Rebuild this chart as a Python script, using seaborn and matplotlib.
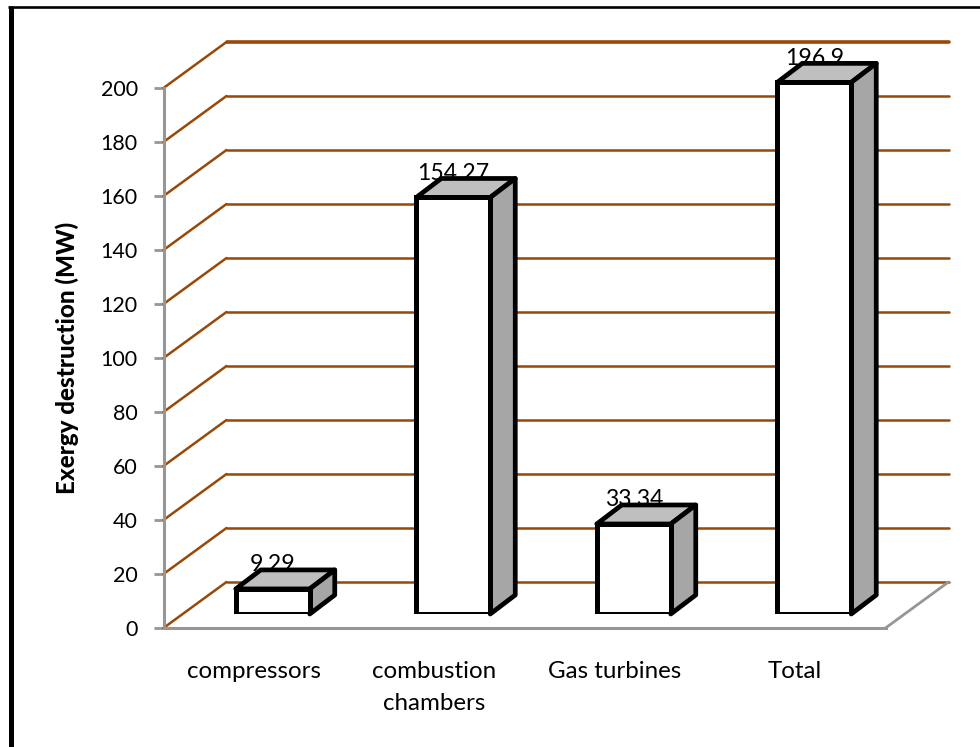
import matplotlib
matplotlib.use("Agg")
import matplotlib.pyplot as plt
from matplotlib.patches import Polygon
from matplotlib.lines import Line2D
import pandas as pd
import seaborn as sns

categories = ["compressors", "combustion\nchambers", "Gas turbines", "Total"]
values = [9.29, 154.27, 33.34, 196.9]
value_labels = ["9.29", "154.27", "33.34", "196.9"]
y_ticks = list(range(0, 201, 20))

W, H = 980, 747
sns.set_theme(style="white")
plt.rcParams["font.family"] = ["Lato", "DejaVu Sans"]

fig = plt.figure(figsize=(W / 100, H / 100), dpi=100, facecolor="white")


def rect(x0, x1, ytop, ybot):
    return [x0 / W, 1 - ybot / H, (x1 - x0) / W, (ybot - ytop) / H]


ax = fig.add_axes(rect(163.5, 885.5, 88, 628))
ax.set_xlim(-0.5, 3.5)
ax.set_ylim(0, 200)
bx = fig.add_axes(rect(182.5, 904.5, 74, 614), zorder=3)
bx.patch.set_alpha(0)

GRID = "#984807"
GRAY = "#969696"
ppx = 4 / 722  # category units per pixel
ppy = 200 / 540  # value units per pixel
dx_back, dy_back = 63 * ppx, 46 * ppy

# walls: oblique left wall and back wall gridlines
for v in y_ticks:
    ax.plot([-0.5, -0.5 + dx_back], [v, v + dy_back],
            color=GRID, lw=1.8, clip_on=False, solid_capstyle="round", zorder=1)
    ax.plot([-0.5 + dx_back, 3.5 + dx_back], [v + dy_back, v + dy_back],
            color=GRID, lw=2.6 if v == 200 else 1.8, clip_on=False,
            solid_capstyle="round", zorder=1)
ax.plot([3.5, 3.5 + dx_back], [0, dy_back], color=GRAY, lw=2.0, clip_on=False, zorder=2)

ax.set_yticks(y_ticks)
ax.set_xticks(range(4))
ax.set_xticklabels(categories, fontsize=17.4, color="black", linespacing=1.6)
ax.tick_params(axis="y", length=7, width=2, color=GRAY, labelsize=15.5, labelcolor="black",
               pad=11.5, left=True)
ax.tick_params(axis="x", length=0, pad=24)
for s in ("top", "right"):
    ax.spines[s].set_visible(False)
for s in ("left", "bottom"):
    ax.spines[s].set_color(GRAY)
    ax.spines[s].set_linewidth(2.2)
ax.patch.set_alpha(0)
ax.set_ylabel("Exergy destruction (MW)", fontsize=17.4, fontweight="black", color="black")
ax.yaxis.set_label_coords(79 / W, 1 - 358 / H, transform=fig.transFigure)

# bars: front faces come from seaborn, depth faces from each bar's own geometry
df = pd.DataFrame({"category": categories, "value": values})
sns.barplot(data=df, x="category", y="value", ax=bx, width=74 / 180.5, color="white",
            saturation=1, edgecolor="black", linewidth=3.6, zorder=5, legend=False)
bx.set_xlim(-0.5, 3.5)
bx.set_ylim(0, 200)
bx.axis("off")

dx_bar, dy_bar = 25 * ppx, 19 * ppy
for patch, label in zip(bx.patches, value_labels):
    x0, w = patch.get_x(), patch.get_width()
    x1, h = x0 + w, patch.get_height()
    bx.text(x0 + w / 2, h + 24 * ppy, label, ha="center", va="center",
            fontsize=16.6, color="black", zorder=3, clip_on=False)
    top = Polygon([(x0, h), (x1, h), (x1 + dx_bar, h + dy_bar), (x0 + dx_bar, h + dy_bar)],
                  closed=True, facecolor="#BFBFBF", edgecolor="black", lw=3.4,
                  joinstyle="round", clip_on=False, zorder=4)
    side = Polygon([(x1, 0), (x1 + dx_bar, dy_bar), (x1 + dx_bar, h + dy_bar), (x1, h)],
                   closed=True, facecolor="#A6A6A6", edgecolor="black", lw=3.4,
                   joinstyle="round", clip_on=False, zorder=4)
    bx.add_patch(top)
    bx.add_patch(side)

# outer frame: heavy left edge, thin top edge
fig.add_artist(Line2D([10.8 / W, 10.8 / W], [0, 1 - 6 / H], color="black", lw=3.6,
                      solid_capstyle="butt"))
fig.add_artist(Line2D([8.3 / W, 1], [1 - 7.3 / H, 1 - 7.3 / H], color="black", lw=1.9,
                      solid_capstyle="butt"))

fig.savefig("out.png", dpi=100, facecolor="white")
